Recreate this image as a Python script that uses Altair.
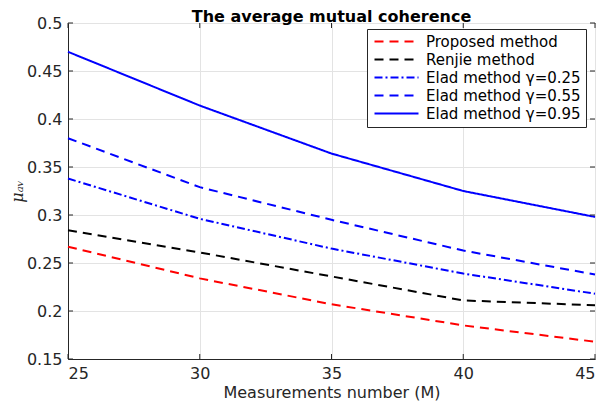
import altair as alt
import pandas as pd

x_vals = [25, 30, 35, 40, 45]
proposed = [0.267, 0.234, 0.207, 0.185, 0.168]
renjie = [0.284, 0.261, 0.236, 0.211, 0.206]
elad_025 = [0.338, 0.296, 0.265, 0.239, 0.218]
elad_055 = [0.380, 0.329, 0.295, 0.263, 0.238]
elad_095 = [0.470, 0.414, 0.364, 0.325, 0.298]

series_names = ["Proposed method", "Renjie method", "Elad method γ=0.25",
                "Elad method γ=0.55", "Elad method γ=0.95"]
series_vals = [proposed, renjie, elad_025, elad_055, elad_095]
series_colors = ["#ff0000", "#000000", "#0000ff", "#0000ff", "#0000ff"]
series_dashes = [[9, 6], [9, 6], [8, 3, 2, 3], [9, 6], [1, 0]]

x_ticks = [25, 30, 35, 40, 45]
y_ticks = [0.15, 0.2, 0.25, 0.3, 0.35, 0.4, 0.45, 0.5]

rows = []
for name, vals in zip(series_names, series_vals):
    for xv, yv in zip(x_vals, vals):
        rows.append({"M": xv, "mu": yv, "series": name})
df = pd.DataFrame(rows)

W, H = 527, 336
AX = "#262626"
FONT = "DejaVu Sans"

xscale = alt.Scale(domain=[25, 45], nice=False, zero=False)
yscale = alt.Scale(domain=[0.15, 0.5], nice=False, zero=False)

legend_kw = dict(title=None, orient="none", legendX=299, legendY=6,
                 symbolType="M-4,0H4", symbolSize=121, symbolOffset=17,
                 symbolStrokeWidth=2, labelOffset=22,
                 labelFont=FONT, labelFontSize=15, labelColor="black",
                 fillColor="white", strokeColor=AX, padding=5,
                 rowPadding=2, labelLimit=300)

lines = alt.Chart(df).mark_line(strokeWidth=2).encode(
    x=alt.X("M:Q", scale=xscale,
            axis=alt.Axis(values=x_ticks, title="Measurements number (M)", grid=True,
                          tickSize=0, labelPadding=6, titlePadding=3, format="~g")),
    y=alt.Y("mu:Q", scale=yscale,
            axis=alt.Axis(values=y_ticks, title="μₐᵥ", grid=True, tickSize=0,
                          labelPadding=6, titlePadding=1, format="~g",
                          titleFont="DejaVu Serif", titleFontStyle="italic",
                          titleFontWeight="normal", titleFontSize=16)),
    color=alt.Color("series:N", scale=alt.Scale(domain=series_names, range=series_colors),
                    legend=alt.Legend(**legend_kw)),
    strokeDash=alt.StrokeDash("series:N",
                              scale=alt.Scale(domain=series_names, range=series_dashes),
                              legend=alt.Legend(**legend_kw)),
)

xt = pd.DataFrame({"t": x_ticks})
yt = pd.DataFrame({"t": y_ticks})

xt_bottom = alt.Chart(xt).mark_rule(color=AX, strokeWidth=1).encode(
    x=alt.X("t:Q", scale=xscale), y=alt.value(H), y2=alt.value(H - 5))
xt_top = alt.Chart(xt).mark_rule(color=AX, strokeWidth=1).encode(
    x=alt.X("t:Q", scale=xscale), y=alt.value(0), y2=alt.value(5))
yt_left = alt.Chart(yt).mark_rule(color=AX, strokeWidth=1).encode(
    y=alt.Y("t:Q", scale=yscale), x=alt.value(0), x2=alt.value(5))
yt_right = alt.Chart(yt).mark_rule(color=AX, strokeWidth=1).encode(
    y=alt.Y("t:Q", scale=yscale), x=alt.value(W), x2=alt.value(W - 5))

chart = alt.layer(lines, xt_bottom, xt_top, yt_left, yt_right).properties(
    width=W, height=H,
    autosize="none",
    background="white",
    padding={"left": 60, "top": 15, "right": 1, "bottom": 48},
    title=alt.TitleParams("The average mutual coherence", font=FONT, fontSize=16,
                          fontWeight="bold", color="black", offset=-10, anchor="middle"),
).configure_view(stroke=AX, strokeWidth=1).configure_axis(
    labelFont=FONT, labelFontSize=16, labelColor=AX, titleFont=FONT, titleFontSize=16,
    titleColor=AX, titleFontWeight="normal", domainColor=AX, domainWidth=1,
    gridColor="#e3e3e3", gridWidth=1,
)

chart.save("out.html", embed_options={"renderer": "svg", "actions": False})
